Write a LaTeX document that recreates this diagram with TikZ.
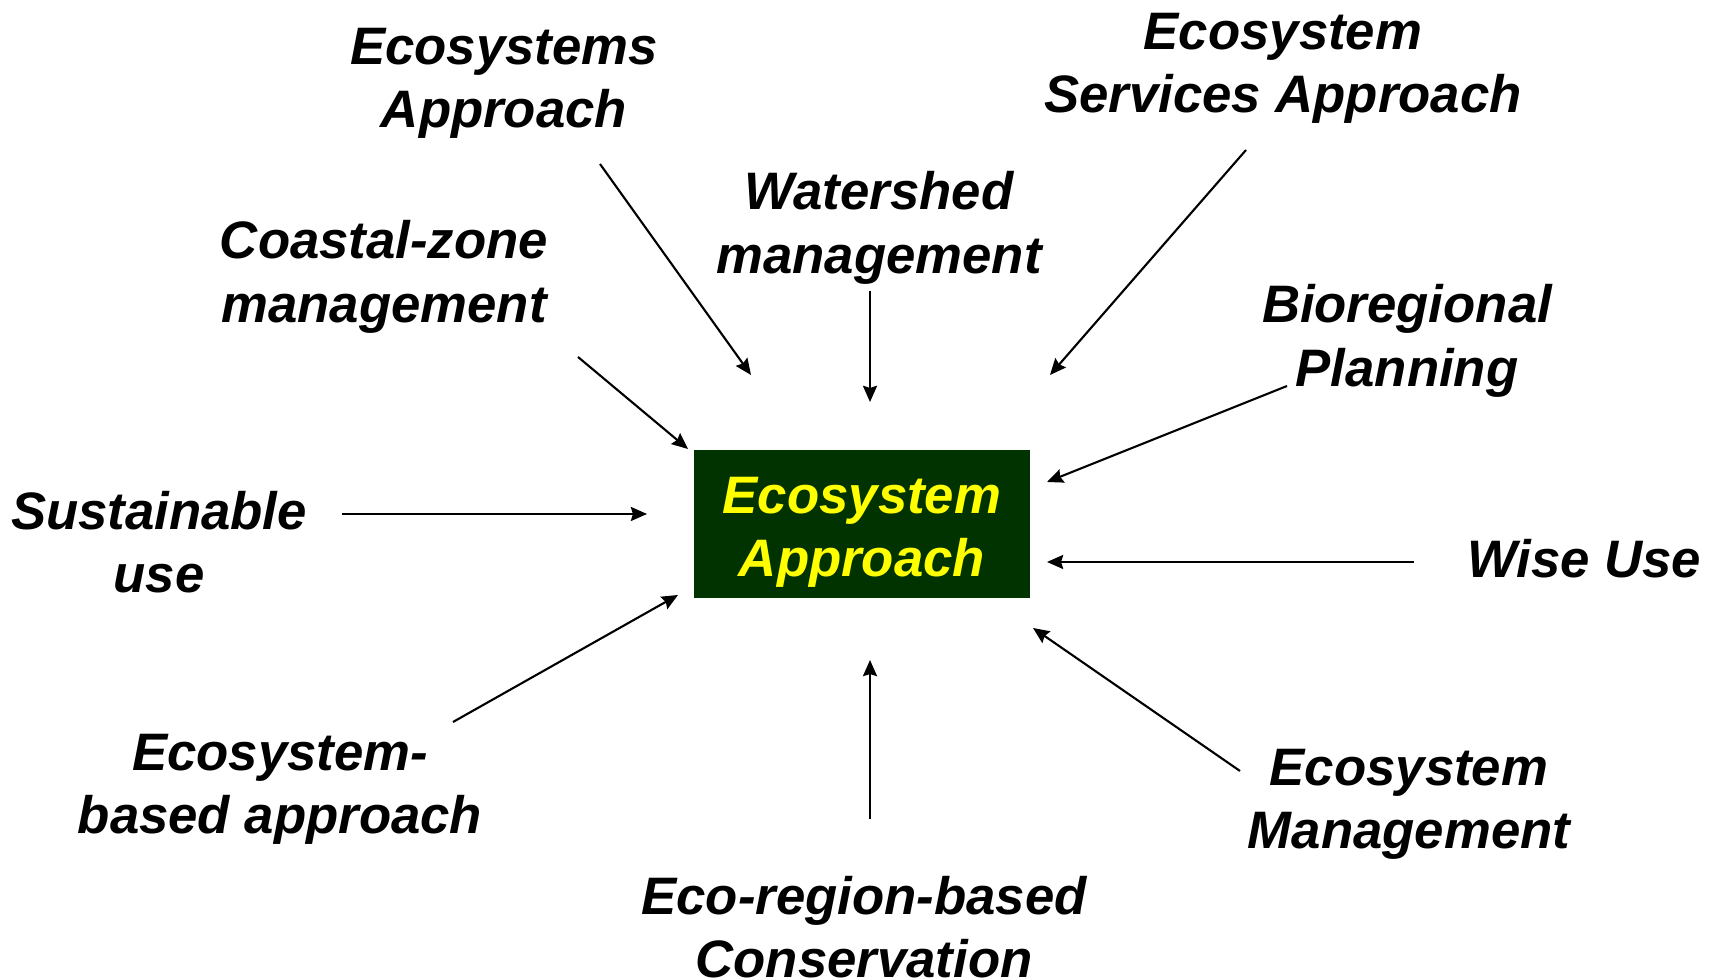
\documentclass[tikz,border=0pt]{standalone}
\usepackage{fontspec}
\setmainfont{Liberation Sans}
\usetikzlibrary{arrows.meta}
\definecolor{boxgreen}{HTML}{003300}
\definecolor{boxyellow}{HTML}{FFFF00}

\begin{document}
\begin{tikzpicture}[x=0.1mm,y=-0.1mm,line width=0.6pt,
    every node/.style={inner sep=0pt,align=center,
      font=\fontsize{15}{18}\selectfont\bfseries\itshape},
    >={Stealth[length=4.6pt,width=4pt,inset=0.6pt]}]
    \useasboundingbox(0,0)rectangle(1719,979);
    \node[fill=boxgreen,minimum width=33.6mm,minimum height=14.8mm,
      label={[text=boxyellow,yshift=-0.8mm]center:Ecosystem\\Approach}]
      (ea)at(862,524){};
    \node(esa)at(504,83){Ecosystems\\Approach};
    \node(ess)at(1283,68){Ecosystem\\Services Approach};
    \node(wm)at(879,228){Watershed\\management};
    \node(czm)at(384,277){Coastal-zone\\management};
    \node(bp)at(1407,341){Bioregional\\Planning};
    \node(su)at(159,542){Sustainable\\use};
    \node(wu)at(1584,559){Wise Use};
    \node(eba)at(280,789){Ecosystem-\\based approach};
    \node(em)at(1409,804){Ecosystem\\Management};
    \node(erc)at(864,927){Eco-region-based\\Conservation};
    % arrow tails and heads
    \coordinate(esa1)at(600,164);  \coordinate(esa2)at(751,375);
    \coordinate(wm1)at(870,291);   \coordinate(wm2)at(870,402);
    \coordinate(ess1)at(1246,150); \coordinate(ess2)at(1050,375);
    \coordinate(czm1)at(578,357);  \coordinate(czm2)at(688,449);
    \coordinate(bp1)at(1287,386);  \coordinate(bp2)at(1047,482);
    \coordinate(su1)at(342,514);   \coordinate(su2)at(647,514);
    \coordinate(wu1)at(1414,562);  \coordinate(wu2)at(1047,562);
    \coordinate(eba1)at(453,722);  \coordinate(eba2)at(678,595);
    \coordinate(erc1)at(870,819);  \coordinate(erc2)at(870,660);
    \coordinate(em1)at(1240,771);  \coordinate(em2)at(1033,628);
    \foreach \n in {esa,wm,ess,czm,bp,su,wu,eba,erc,em}
      \draw[->](\n1)--(\n2);
  \end{tikzpicture}
\end{document}
